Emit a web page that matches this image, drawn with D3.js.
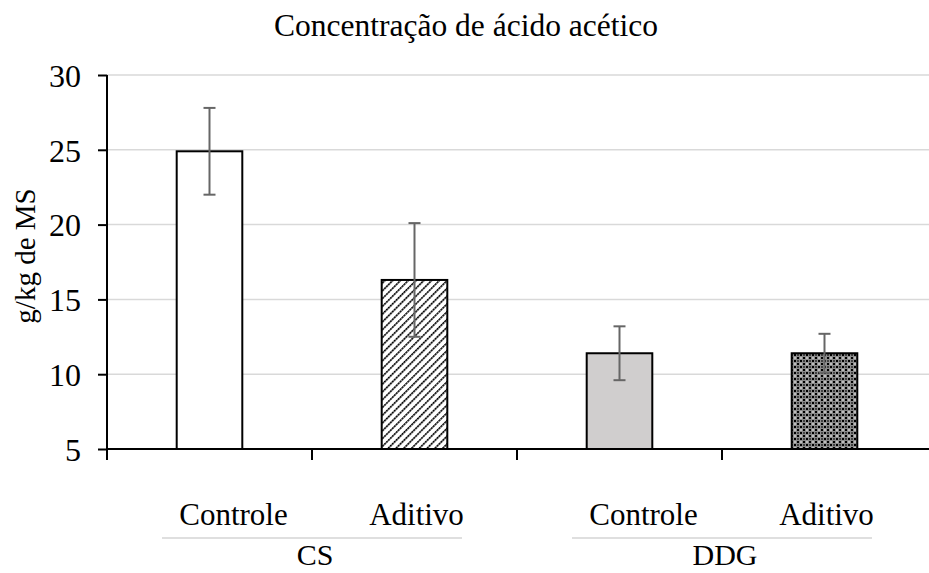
<!DOCTYPE html>
<html>
<head>
<meta charset="utf-8">
<script src="https://cdn.jsdelivr.net/npm/d3@7"></script>
<style>
body { margin: 0; background: #fff; }
</style>
</head>
<body>
<svg id="chart" width="929" height="573"></svg>
<script>
const groups = ["CS", "DDG"];
const treatments = ["Controle", "Aditivo"];
const barKeys = ["CS-Controle", "CS-Aditivo", "DDG-Controle", "DDG-Aditivo"];
const means = [24.9, 16.3, 11.4, 11.4];
const errors = [2.9, 3.8, 1.8, 1.3];
const yTicks = [5, 10, 15, 20, 25, 30];

const serif = "'Liberation Serif', 'Times New Roman', serif";

const margin = { top: 75, right: 0, bottom: 124, left: 107 },
    width = 929 - margin.left - margin.right,
    height = 573 - margin.top - margin.bottom;

const svgRoot = d3.select("#chart");
const defs = svgRoot.append("defs");

// diagonal hatch
const hatch = defs.append("pattern").attr("id", "hatch").attr("patternUnits", "userSpaceOnUse")
    .attr("width", 5.5).attr("height", 5.5).attr("patternTransform", "rotate(45)");
hatch.append("rect").attr("width", 5.5).attr("height", 5.5).attr("fill", "#fff");
hatch.append("line").attr("x1", 0).attr("y1", 0).attr("x2", 0).attr("y2", 5.5)
    .attr("stroke", "#000").attr("stroke-width", 3.2).attr("stroke-dasharray", "2.2,0.6");

// checker grid
const check = defs.append("pattern").attr("id", "check").attr("patternUnits", "userSpaceOnUse")
    .attr("width", 6).attr("height", 6);
check.append("rect").attr("width", 6).attr("height", 6).attr("fill", "#8c8c8c");
check.append("rect").attr("x", 0).attr("y", 0).attr("width", 2).attr("height", 2).attr("fill", "#000");
check.append("rect").attr("x", 3).attr("y", 3).attr("width", 2).attr("height", 2).attr("fill", "#000");
check.append("rect").attr("x", 3).attr("y", 0).attr("width", 2).attr("height", 2).attr("fill", "#bdbdbd");
check.append("rect").attr("x", 0).attr("y", 3).attr("width", 2).attr("height", 2).attr("fill", "#444");

const fills = ["#fff", "url(#hatch)", "#d0cece", "url(#check)"];

const svg = svgRoot.append("g").attr("transform", `translate(${margin.left},${margin.top})`);

const x = d3.scaleBand().domain(barKeys).range([0, width - 2]).paddingInner(0.68).paddingOuter(0.34);
const y = d3.scaleLinear().domain([5, 30]).range([height, 0]);

// gridlines
svg.selectAll("line.grid").data(yTicks.slice(1)).join("line").attr("class", "grid")
    .attr("x1", 0).attr("x2", width).attr("y1", d => y(d)).attr("y2", d => y(d))
    .attr("stroke", "#d9d9d9").attr("stroke-width", 1.5);

// bars
svg.selectAll("rect.bar").data(means).join("rect").attr("class", "bar")
    .attr("x", (d, i) => x(barKeys[i])).attr("y", d => y(d))
    .attr("width", x.bandwidth()).attr("height", d => y(5) - y(d))
    .attr("fill", (d, i) => fills[i]).attr("stroke", "#000").attr("stroke-width", 2);

// error bars
const eb = svg.selectAll("g.err").data(means).join("g").attr("class", "err")
    .attr("transform", (d, i) => `translate(${x(barKeys[i]) + x.bandwidth() / 2},0)`);
eb.append("line").attr("y1", (d, i) => y(d + errors[i])).attr("y2", (d, i) => y(d - errors[i]))
    .attr("stroke", "#666").attr("stroke-width", 2);
eb.append("line").attr("x1", -6).attr("x2", 6).attr("y1", (d, i) => y(d + errors[i])).attr("y2", (d, i) => y(d + errors[i]))
    .attr("stroke", "#666").attr("stroke-width", 2);
eb.append("line").attr("x1", -6).attr("x2", 6).attr("y1", (d, i) => y(d - errors[i])).attr("y2", (d, i) => y(d - errors[i]))
    .attr("stroke", "#666").attr("stroke-width", 2);

// y axis
const yAxis = svg.append("g").call(d3.axisLeft(y).tickValues(yTicks).tickSize(9).tickPadding(17));
yAxis.select(".domain").remove();
yAxis.selectAll(".tick line").attr("stroke", "#000").attr("stroke-width", 2);
yAxis.selectAll(".tick text").style("font-family", serif).style("font-size", "32px").attr("dy", "0.35em");
svg.append("line").attr("x1", 0).attr("x2", 0).attr("y1", 0).attr("y2", height + 11)
    .attr("stroke", "#000").attr("stroke-width", 2);

// x axis line + category ticks
svg.append("line").attr("x1", 0).attr("x2", width).attr("y1", height).attr("y2", height)
    .attr("stroke", "#000").attr("stroke-width", 2);
const tickX = [1, 2, 3].map(k => k * (width - 2) / 4);
svg.selectAll("line.xt").data(tickX).join("line").attr("class", "xt")
    .attr("x1", d => d).attr("x2", d => d).attr("y1", height).attr("y2", height + 11)
    .attr("stroke", "#000").attr("stroke-width", 2);

// treatment labels
svg.selectAll("text.trt").data(barKeys).join("text").attr("class", "trt")
    .attr("x", (d, i) => x(d) + x.bandwidth() / 2 + (i % 2 === 0 ? 24 : 2))
    .attr("y", height + 76).attr("text-anchor", "middle")
    .style("font-family", serif).style("font-size", "31px")
    .text((d, i) => treatments[i % 2]);

// group separators and labels
groups.forEach((g, gi) => {
    const cx = (width - 2) / 4 * (1 + gi * 2);
    svg.append("line").attr("x1", cx - 150).attr("x2", cx + 150)
        .attr("y1", height + 89).attr("y2", height + 89).attr("stroke", "#bfbfbf").attr("stroke-width", 1);
    svg.append("text").attr("x", cx + 3).attr("y", height + 116).attr("text-anchor", "middle")
        .style("font-family", serif).style("font-size", "30px").text(g);
});

// title
svgRoot.append("text").attr("x", 466).attr("y", 36).attr("text-anchor", "middle")
    .style("font-family", serif).style("font-size", "31.5px").text("Concentração de ácido acético");

// y label
svgRoot.append("text").attr("transform", "translate(35,256) rotate(-90)").attr("text-anchor", "middle")
    .style("font-family", serif).style("font-size", "29px").text("g/kg de MS");
</script>
</body>
</html>
